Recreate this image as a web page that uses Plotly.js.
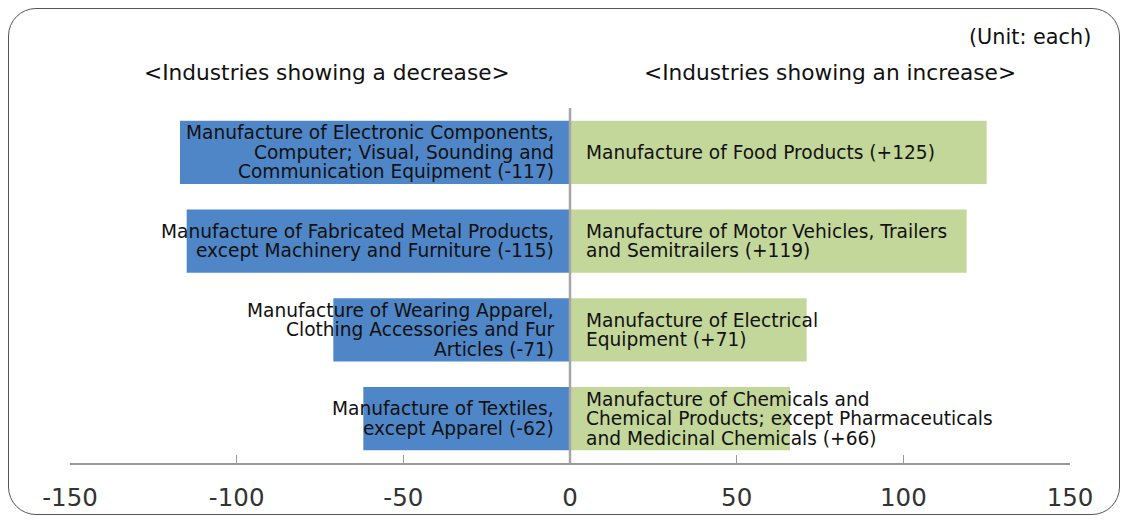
<!DOCTYPE html>
<html>
<head>
<meta charset="utf-8">
<script src="https://cdn.plot.ly/plotly-3.0.1.min.js"></script>
<style>
  html, body { margin: 0; padding: 0; background: #fff; }
  #wrap { position: relative; width: 1125px; height: 520px; }
  #chart { width: 1125px; height: 520px; }
  #frame { position: absolute; left: 8px; top: 8px; width: 1112px; height: 507px;
           border: 1.5px solid #555; border-radius: 28px; pointer-events: none; box-sizing: border-box; }
</style>
</head>
<body>
<div id="wrap">
  <div id="chart"></div>
  <div id="frame"></div>
</div>
<script>
// Row keys (top to bottom)
const rows = ['r1', 'r2', 'r3', 'r4'];

// Industries showing a decrease
const decLabels = [
  'Manufacture of Electronic Components,<br>Computer; Visual, Sounding and<br>Communication Equipment (-117)',
  'Manufacture of Fabricated Metal Products,<br>except Machinery and Furniture (-115)',
  'Manufacture of Wearing Apparel,<br>Clothing Accessories and Fur<br>Articles (-71)',
  'Manufacture of Textiles,<br>except Apparel (-62)'
];
const decValues = [-117, -115, -71, -62];

// Industries showing an increase
const incLabels = [
  'Manufacture of Food Products (+125)',
  'Manufacture of Motor Vehicles, Trailers<br>and Semitrailers (+119)',
  'Manufacture of Electrical<br>Equipment (+71)',
  'Manufacture of Chemicals and<br>Chemical Products; except Pharmaceuticals<br>and Medicinal Chemicals (+66)'
];
const incValues = [125, 119, 71, 66];

// Axis ticks
const tickValues = [-150, -100, -50, 0, 50, 100, 150];
const tickLabels = ['-150', '-100', '-50', '0', '50', '100', '150'];

const labelFont = { family: 'DejaVu Sans, sans-serif', size: 18.6, color: '#111' };
const lineGap = 19.5;

const traces = [
  { type: 'bar', orientation: 'h', y: rows, x: decValues, width: 0.713,
    marker: { color: '#4F86C8' }, hoverinfo: 'skip' },
  { type: 'bar', orientation: 'h', y: rows, x: incValues, width: 0.713,
    marker: { color: '#C4D79B' }, hoverinfo: 'skip' }
];

const annotations = [];
function addLabel(text, row, side) {
  const lines = text.split('<br>');
  const n = lines.length;
  lines.forEach((ln, k) => {
    annotations.push({
      xref: 'x', yref: 'y', x: 0, y: row,
      xshift: side === 'left' ? -14 : 14,
      yshift: ((n - 1) / 2 - k) * lineGap,
      xanchor: side === 'left' ? 'right' : 'left', yanchor: 'middle',
      text: ln, showarrow: false, font: labelFont
    });
  });
}
rows.forEach((r, i) => {
  addLabel(decLabels[i], r, 'left');
  addLabel(incLabels[i], r, 'right');
});

const headFont = { family: 'DejaVu Sans, sans-serif', size: 21.7, color: '#111' };
annotations.push({ xref: 'x', yref: 'paper', x: -73, y: 1, yshift: 36, text: '&lt;Industries showing a decrease&gt;',
  showarrow: false, font: headFont, xanchor: 'center', yanchor: 'middle' });
annotations.push({ xref: 'x', yref: 'paper', x: 78, y: 1, yshift: 36, text: '&lt;Industries showing an increase&gt;',
  showarrow: false, font: headFont, xanchor: 'center', yanchor: 'middle' });
annotations.push({ xref: 'paper', yref: 'paper', x: 1, xshift: 23, y: 1, yshift: 71, text: '(Unit: each)',
  showarrow: false, font: { family: 'DejaVu Sans, sans-serif', size: 20.8, color: '#111' },
  xanchor: 'right', yanchor: 'middle' });

const layout = {
  width: 1125, height: 520,
  margin: { l: 70, r: 55, t: 108, b: 57 },
  paper_bgcolor: '#fff', plot_bgcolor: '#fff',
  barmode: 'overlay', showlegend: false,
  xaxis: {
    range: [-150, 150], tickvals: tickValues, ticktext: tickLabels,
    ticks: 'inside', ticklen: 8, tickwidth: 1.5, tickcolor: '#999',
    showline: true, linecolor: '#999', linewidth: 1.5,
    showgrid: false, zeroline: false,
    tickfont: { family: 'DejaVu Sans, sans-serif', size: 24.5, color: '#333' },
    ticklabelstandoff: 12, fixedrange: true
  },
  yaxis: {
    type: 'category', categoryorder: 'array', categoryarray: rows.slice().reverse(),
    range: [-0.5, 3.5], showticklabels: false, showgrid: false, zeroline: false,
    showline: false, ticks: '', fixedrange: true
  },
  shapes: [
    { type: 'line', xref: 'x', yref: 'paper', x0: 0, x1: 0, y0: 0, y1: 1,
      line: { color: '#A6A6A6', width: 2.5 }, layer: 'above' }
  ],
  annotations: annotations
};

Plotly.newPlot('chart', traces, layout, { staticPlot: true, displayModeBar: false });
</script>
</body>
</html>
